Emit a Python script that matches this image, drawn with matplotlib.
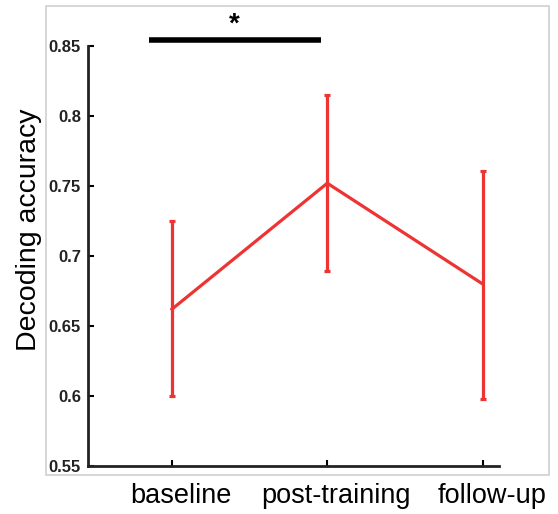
import numpy as np
import matplotlib.pyplot as plt
from matplotlib.patches import Rectangle
from matplotlib.transforms import ScaledTranslation

# Datos
condiciones = ['baseline', 'post-training', 'follow-up']
media = [0.662, 0.752, 0.680]
sup = [0.725, 0.815, 0.761]
inf = [0.600, 0.689, 0.598]
yticks = [0.55, 0.6, 0.65, 0.7, 0.75, 0.8, 0.85]
ytick_labels = ['0.55', '0.6', '0.65', '0.7', '0.75', '0.8', '0.85']

x = np.arange(1, len(condiciones) + 1)
err = [np.array(media) - np.array(inf), np.array(sup) - np.array(media)]

plt.rcParams['font.family'] = ['Liberation Sans', 'DejaVu Sans']

fig = plt.figure(figsize=(5.58, 5.14), dpi=100)
# marco gris claro
fig.patches.append(Rectangle((46/558, 1 - 475/514), (549-46)/558, (475-6)/514,
                             transform=fig.transFigure, fill=False,
                             edgecolor='#d0d0d0', linewidth=1.2))
ax = fig.add_axes([88/558, 1 - 466/514, (499-88)/558, (466-46)/514])

ax.errorbar(x, media, yerr=err, color='#ee3333', linewidth=2.3,
            elinewidth=2.3, capsize=2.5, capthick=2.3)

ax.set_xlim(0.46, 3.105)
ax.set_ylim(0.55, 0.85)
ax.set_yticks(yticks)
ax.set_yticklabels(ytick_labels, fontsize=12, fontweight='bold', color='#222222')
ax.set_xticks(x)
ax.set_xticklabels(condiciones, fontsize=19.5)
ax.tick_params(direction='in', length=4, width=1.5)
ax.tick_params(axis='x', pad=12)
ax.tick_params(axis='y', pad=5)
# las etiquetas del eje x estan algo corridas a la derecha en el original
for lab in ax.get_xticklabels():
    lab.set_transform(lab.get_transform() + ScaledTranslation(0.09, 0, fig.dpi_scale_trans))
for s in ['top', 'right']:
    ax.spines[s].set_visible(False)
for s in ['left', 'bottom']:
    ax.spines[s].set_linewidth(2)
    ax.spines[s].set_color('#222222')
ax.set_ylabel('Decoding accuracy', fontsize=20.5)
ax.yaxis.set_label_coords(-0.112, 0.562)

# barra de significancia
ax.plot([0.85, 1.96], [0.854, 0.854], color='black', linewidth=4, clip_on=False,
        solid_capstyle='butt')
ax.text(1.4, 0.856, '*', ha='center', va='bottom', fontsize=20, fontweight='bold')

fig.savefig('out.png', dpi=100)
